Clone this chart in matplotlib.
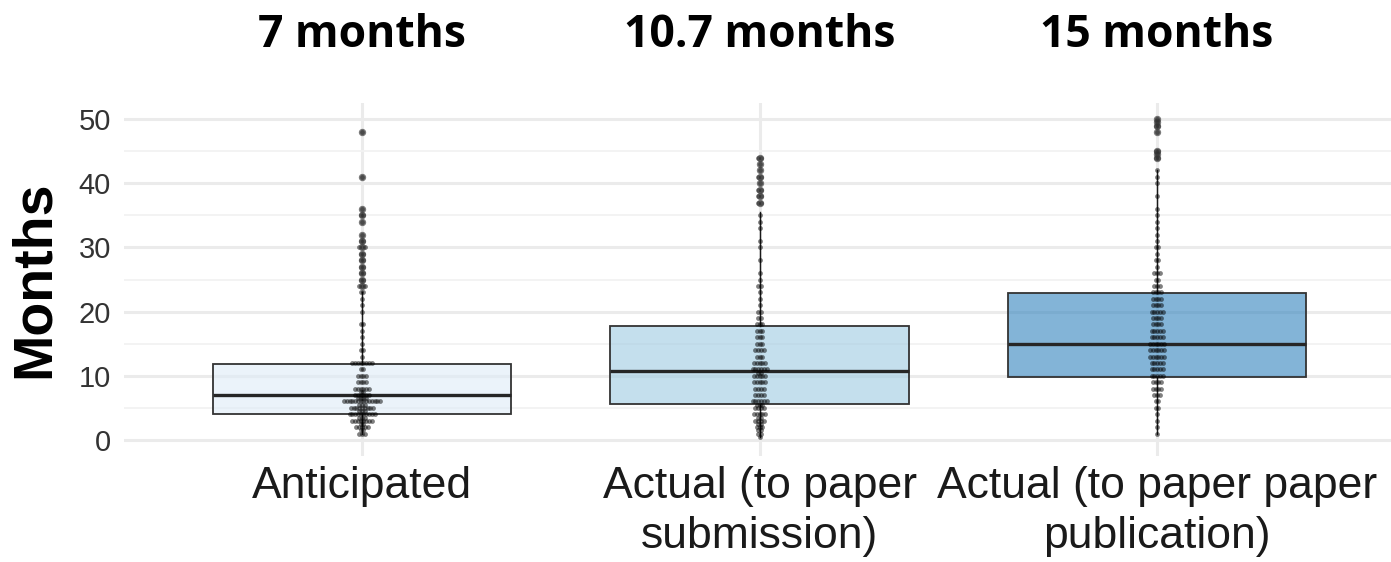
import matplotlib.pyplot as plt
import matplotlib.transforms as mtransforms
from matplotlib.colors import to_rgba

categories = ["Anticipated", "Actual (to paper\nsubmission)", "Actual (to paper paper\npublication)"]
medians = [7, 10.7, 15]
q1 = [4.1, 5.6, 9.8]
q3 = [11.8, 17.7, 22.9]
whisker_lo = [1.0, 0.5, 1.0]
whisker_hi = [23, 35.5, 42]
box_colors = ["#DEEBF7", "#9ECAE1", "#3182BD"]

# responses per group: month value and how many respondents gave it
anticipated_months = [1, 1.5, 2, 2.5, 3, 3.5, 4, 4.5, 5, 5.5, 6, 6.5, 7, 7.5, 8, 9, 10, 11, 12,
                      13, 14, 15, 16, 17, 18, 20, 21, 22, 23, 24, 25, 26, 27, 28, 29, 30, 31,
                      32, 34, 35, 36, 41, 48]
anticipated_counts = [3, 2, 5, 2, 8, 3, 10, 3, 9, 3, 14, 4, 6, 2, 6, 4, 4, 2, 8,
                      1, 2, 1, 1, 1, 2, 1, 1, 1, 2, 3, 2, 2, 2, 2, 2, 3, 2,
                      1, 1, 2, 1, 1, 1]

submission_months = [0.5, 1, 1.5, 2, 2.5, 3, 3.5, 4, 5, 5.5, 6, 7, 8, 9, 10, 10.5, 11, 12, 13,
                     14, 15, 16, 17, 18, 19, 20, 21, 22, 23, 24, 25, 26, 28, 30, 31, 33, 34,
                     35, 37, 38, 39, 40, 41, 42, 43, 44]
submission_counts = [1, 2, 2, 3, 2, 4, 2, 5, 4, 3, 6, 4, 4, 5, 5, 2, 6, 5, 3,
                     4, 3, 3, 3, 3, 2, 2, 1, 1, 1, 2, 1, 1, 1, 1, 1, 1, 1,
                     1, 2, 2, 2, 1, 2, 1, 1, 2]

publication_months = [1, 2, 3, 4, 5, 6, 7, 8, 9, 10, 11, 12, 13, 14, 15, 16, 17, 18, 19, 20,
                      21, 22, 23, 24, 25, 26, 27, 28, 29, 30, 31, 32, 33, 34, 35, 36, 38, 40,
                      41, 42, 44, 44.5, 45, 48, 49, 49.5, 50]
publication_counts = [1, 1, 1, 1, 2, 2, 3, 4, 4, 5, 5, 5, 6, 6, 6, 5, 5, 4, 4, 5,
                      4, 4, 4, 3, 2, 3, 1, 2, 1, 2, 1, 1, 1, 1, 1, 1, 1, 1,
                      1, 1, 2, 1, 2, 1, 2, 1, 1]

groups = [(anticipated_months, anticipated_counts),
          (submission_months, submission_counts),
          (publication_months, publication_counts)]

plt.rcParams['font.family'] = ['Liberation Sans', 'DejaVu Sans']

fig = plt.figure(figsize=(13.91, 5.62), dpi=100)
ax = fig.add_axes([0.0888, 0.1886, 0.9145, 0.628])

stats = []
for i in range(3):
    stats.append(dict(med=medians[i], q1=q1[i], q3=q3[i],
                      whislo=whisker_lo[i], whishi=whisker_hi[i], fliers=[]))

bp = ax.bxp(stats, positions=[1, 2, 3], widths=0.75, patch_artist=True,
            showfliers=False, showcaps=False, manage_ticks=False,
            boxprops=dict(edgecolor='#333333', linewidth=1.3),
            medianprops=dict(color='#262626', linewidth=2.4),
            whiskerprops=dict(color='#1a1a1a', linewidth=1.0))
for patch, c in zip(bp['boxes'], box_colors):
    fc = list(to_rgba(c))
    fc[3] = 0.6
    patch.set_facecolor(fc)

# minimal theme: light grid, no spines, no ticks
for s in ax.spines.values():
    s.set_visible(False)
ax.set_xlim(0.4, 3.6)
ax.set_ylim(-2.5, 52.5)
ax.set_yticks([0, 10, 20, 30, 40, 50])
ax.set_yticks([5, 15, 25, 35, 45], minor=True)
ax.set_xticks([1, 2, 3])
ax.set_xticklabels(categories, fontsize=32, color='#1a1a1a', linespacing=1.3)
ax.tick_params(axis='x', length=0, pad=7)
ax.tick_params(axis='y', which='both', length=0, pad=9, labelsize=21, labelcolor='#333333')
ax.grid(True, which='major', axis='both', color='#EBEBEB', linewidth=2.2, zorder=0)
ax.grid(True, which='minor', axis='y', color='#F2F2F2', linewidth=1.3, zorder=0)
ax.set_axisbelow(True)

# individual responses, repeated values fanned out sideways
dx = 0.007
for i, (months, counts) in enumerate(groups):
    xs, ys = [], []
    for m, n in zip(months, counts):
        for k in range(n):
            xs.append(i + 1 + (k - (n - 1) / 2) * dx)
            ys.append(m)
    ax.scatter(xs, ys, s=12, color='black', alpha=0.5, linewidths=0, zorder=4)
    out = [m for m in months if m > whisker_hi[i] or m < whisker_lo[i]]
    ax.scatter([i + 1] * len(out), out, s=28, color='#333333', alpha=0.65,
               linewidths=0, zorder=5)

ax.text(-0.0696, 0.5, "Months", transform=ax.transAxes, rotation=90,
        ha='center', va='center', fontsize=40, fontweight='bold', color='black')

# median headline above each group
trans = mtransforms.blended_transform_factory(ax.transData, fig.transFigure)
for i, m in enumerate(medians):
    ax.text(i + 1, 0.9164, f"{m:g} months", transform=trans, ha='center', va='baseline',
            fontsize=32, fontweight='bold', family=['Open Sans', 'DejaVu Sans'])

fig.savefig("out.png", dpi=100)
